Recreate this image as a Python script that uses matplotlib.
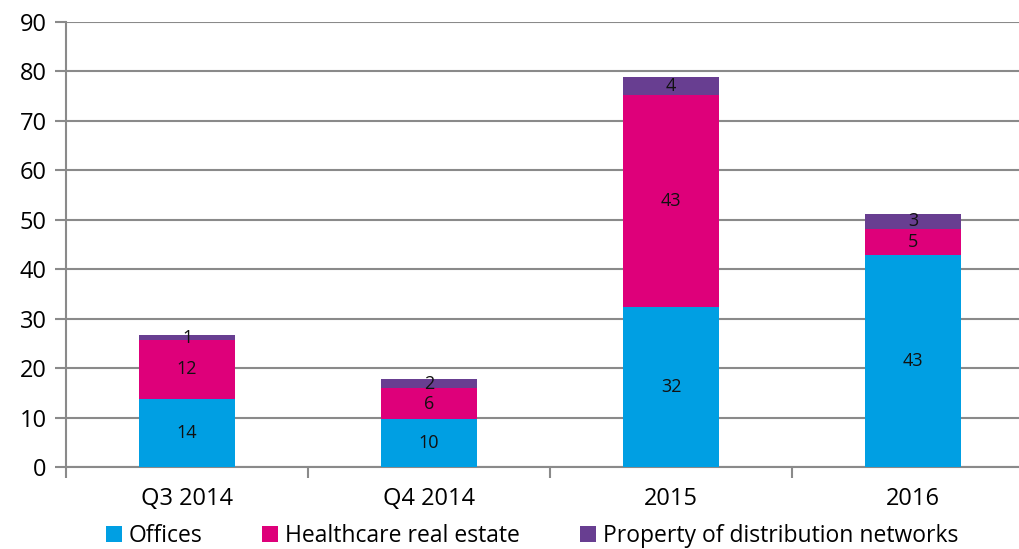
import matplotlib.pyplot as plt
import numpy as np
from matplotlib.ticker import FixedLocator

categories = ["Q3 2014", "Q4 2014", "2015", "2016"]
series_names = ["Offices", "Healthcare real estate", "Property of distribution networks"]
offices = [13.8, 9.7, 32.3, 42.9]
healthcare = [11.9, 6.3, 42.9, 5.3]
distribution = [1.0, 1.8, 3.7, 3.0]
colors = ["#009FE3", "#DE007A", "#683E91"]

plt.rcParams["font.family"] = ["Open Sans", "DejaVu Sans"]

fig = plt.figure(figsize=(10.19, 5.49), dpi=100)
ax = fig.add_axes([0.0648, 0.149, 0.95, 0.811])

x = np.arange(len(categories))
bottom = np.zeros(len(categories))
for name, vals, col in zip(series_names, [offices, healthcare, distribution], colors):
    vals = np.array(vals)
    bars = ax.bar(x, vals, width=0.4, bottom=bottom, color=col, label=name, zorder=3)
    for b, v, b0 in zip(bars, vals, bottom):
        ax.text(b.get_x() + b.get_width() / 2, b0 + v / 2, f"{v:.0f}",
                ha="center", va="center", fontsize=13, color="#111111", zorder=4)
    bottom += vals

ax.set_xlim(-0.5, 3.5)
ax.set_ylim(0, 90)
ax.set_yticks(range(0, 91, 10))
ax.set_xticks(x)
ax.set_xticklabels(categories)
ax.xaxis.set_minor_locator(FixedLocator([-0.5, 0.5, 1.5, 2.5, 3.5]))
ax.tick_params(axis="x", which="major", length=0, pad=14, labelsize=17)
ax.tick_params(axis="x", which="minor", length=8, width=1.5, color="#8a8a8a")
ax.tick_params(axis="y", length=8, width=1.5, color="#8a8a8a", labelsize=17, pad=6)

ax.grid(axis="y", color="#8a8a8a", linewidth=1.5, zorder=0)
for s in ["top", "right"]:
    ax.spines[s].set_visible(False)
for s in ["left", "bottom"]:
    ax.spines[s].set_color("#8a8a8a")
    ax.spines[s].set_linewidth(1.5)

fig.legend(loc="center", bbox_to_anchor=(0.522, 0.024), ncol=3, frameon=False,
           fontsize=16.5, handlelength=0.7, handleheight=0.7, handletextpad=0.3,
           columnspacing=2.6, borderaxespad=0, borderpad=0)

fig.savefig("out.png", dpi=100)
